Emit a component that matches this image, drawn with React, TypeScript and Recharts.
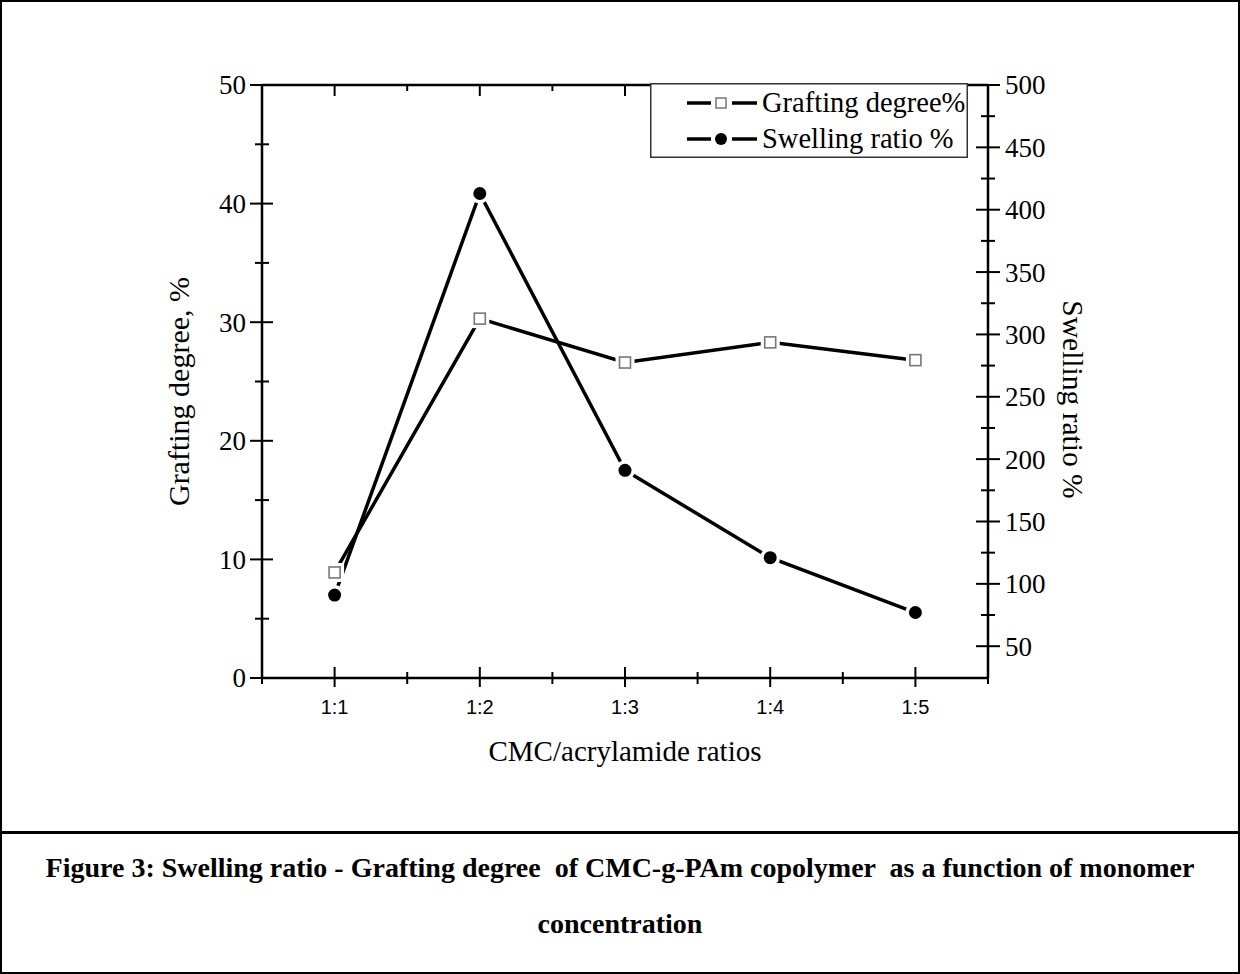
import { LineChart, Line, XAxis, YAxis, Legend } from 'recharts'

const ratios = ['1:1', '1:2', '1:3', '1:4', '1:5']
const grafting = [8.9, 30.3, 26.6, 28.3, 26.8]
const swelling = [91, 413, 191, 121, 77]
const seriesNames = ['Grafting degree%', 'Swelling ratio %']

const xTicks = [0.5, 1, 1.5, 2, 2.5, 3, 3.5, 4, 4.5, 5, 5.5]
const leftTicks = [0, 5, 10, 15, 20, 25, 30, 35, 40, 45, 50]
const rightTicks = [50, 75, 100, 125, 150, 175, 200, 225, 250, 275, 300, 325, 350, 375, 400, 425, 450, 475, 500]

const data = ratios.map((r, i) => ({
  pos: i + 1,
  ratio: r,
  grafting: grafting[i],
  swelling: swelling[i],
}))

const serif = '"Liberation Serif", "Times New Roman", serif'
const sans = '"Liberation Sans", Arial, sans-serif'

function BottomTick({ x, y, payload }: any) {
  const v = payload.value
  const edge = v === 0.5 || v === 5.5
  const major = Number.isInteger(v)
  return (
    <g>
      <line
        x1={x}
        x2={x}
        y1={edge ? y : major ? y - 11 : y - 6}
        y2={major ? y + 9 : y + 6}
        stroke="#000"
        strokeWidth={2}
      />
      {major && (
        <text x={x} y={y + 36} textAnchor="middle" fontFamily={sans} fontSize={20} fill="#000">
          {ratios[v - 1]}
        </text>
      )}
    </g>
  )
}

function TopTick({ x, y, payload }: any) {
  const v = payload.value
  if (v === 0.5 || v === 5.5) return <g />
  const major = Number.isInteger(v)
  return <line x1={x} x2={x} y1={y} y2={y + (major ? 11 : 6)} stroke="#000" strokeWidth={2} />
}

function LeftTick({ x, y, payload }: any) {
  const v = payload.value
  const major = v % 10 === 0
  return (
    <g>
      <line x1={major ? x - 12 : x - 7} x2={major ? x + 11 : x + 7} y1={y} y2={y} stroke="#000" strokeWidth={2} />
      {major && (
        <text x={x - 16} y={y} dy="0.35em" textAnchor="end" fontFamily={serif} fontSize={27} fill="#000">
          {v}
        </text>
      )}
    </g>
  )
}

function RightTick({ x, y, payload }: any) {
  const v = payload.value
  const major = v % 50 === 0
  return (
    <g>
      <line x1={major ? x - 12 : x - 7} x2={major ? x + 12 : x + 7} y1={y} y2={y} stroke="#000" strokeWidth={2} />
      {major && (
        <text x={x + 17} y={y} dy="0.35em" textAnchor="start" fontFamily={serif} fontSize={27} fill="#000">
          {v}
        </text>
      )}
    </g>
  )
}

function SquareDot({ cx, cy }: any) {
  if (cx == null || cy == null) return <g />
  return (
    <g>
      <rect x={cx - 9.5} y={cy - 9.5} width={19} height={19} fill="#fff" />
      <rect x={cx - 5.5} y={cy - 5.5} width={11} height={11} fill="#fff" stroke="#777" strokeWidth={1.6} />
    </g>
  )
}

function CircleDot({ cx, cy }: any) {
  if (cx == null || cy == null) return <g />
  return (
    <g>
      <circle cx={cx} cy={cy} r={10} fill="#fff" />
      <circle cx={cx} cy={cy} r={6.5} fill="#000" />
    </g>
  )
}

function LegendBox() {
  return (
    <svg width={318} height={75}>
      <rect x={0.75} y={0.75} width={316.5} height={73.5} fill="#fff" stroke="#333" strokeWidth={1.5} />
      {seriesNames.map((name, i) => {
        const cy = 20 + i * 36
        return (
          <g key={name}>
            <line x1={37} x2={61} y1={cy} y2={cy} stroke="#000" strokeWidth={3.5} />
            <line x1={82} x2={107} y1={cy} y2={cy} stroke="#000" strokeWidth={3.5} />
            {i === 0 ? (
              <rect x={66} y={cy - 5} width={10} height={10} fill="#fff" stroke="#777" strokeWidth={1.5} />
            ) : (
              <circle cx={71} cy={cy} r={6} fill="#000" />
            )}
            <text x={112} y={cy} dy="0.33em" fontFamily={serif} fontSize={28.5} fill="#000">
              {name}
            </text>
          </g>
        )
      })}
    </svg>
  )
}

function leftTitle({ viewBox }: any) {
  const cx = viewBox.x - 4
  const cy = viewBox.y + viewBox.height / 2 + 10
  return (
    <text
      x={cx}
      y={cy}
      dy="0.35em"
      textAnchor="middle"
      transform={`rotate(-90, ${cx}, ${cy})`}
      fontFamily={serif}
      fontSize={30}
      fill="#000"
    >
      Grafting degree, %
    </text>
  )
}

function rightTitle({ viewBox }: any) {
  const cx = viewBox.x + 85
  const cy = viewBox.y + viewBox.height / 2 + 18
  return (
    <text
      x={cx}
      y={cy}
      dy="0.35em"
      textAnchor="middle"
      transform={`rotate(90, ${cx}, ${cy})`}
      fontFamily={serif}
      fontSize={29.5}
      fill="#000"
    >
      Swelling ratio %
    </text>
  )
}

function bottomTitle({ viewBox }: any) {
  const cx = viewBox.x + viewBox.width / 2
  return (
    <text x={cx} y={viewBox.y + 83} textAnchor="middle" fontFamily={serif} fontSize={29} fill="#000">
      CMC/acrylamide ratios
    </text>
  )
}

export default function App() {
  const axisLine = { stroke: '#000', strokeWidth: 2.5 }
  return (
    <div style={{ position: 'absolute', left: 0, top: 0, width: 1240, height: 974, background: '#fff' }}>
      <div style={{ position: 'absolute', left: 0, top: 0 }}>
        <LineChart
          width={1240}
          height={832}
          data={data}
          margin={{ top: 80, right: 172, bottom: 94, left: 182 }}
        >
          <XAxis
            dataKey="pos"
            type="number"
            domain={[0.5, 5.5]}
            allowDataOverflow
            ticks={xTicks}
            interval={0}
            tickSize={0}
            tickMargin={0}
            tickLine={false}
            axisLine={axisLine}
            height={60}
            tick={<BottomTick />}
            label={{ content: bottomTitle }}
          />
          <XAxis
            xAxisId="top"
            orientation="top"
            dataKey="pos"
            type="number"
            domain={[0.5, 5.5]}
            allowDataOverflow
            ticks={xTicks}
            interval={0}
            tickSize={0}
            tickMargin={0}
            tickLine={false}
            axisLine={axisLine}
            height={5}
            tick={<TopTick />}
          />
          <YAxis
            yAxisId="left"
            type="number"
            domain={[0, 50]}
            allowDataOverflow
            ticks={leftTicks}
            interval={0}
            tickSize={0}
            tickMargin={0}
            tickLine={false}
            axisLine={axisLine}
            width={80}
            tick={<LeftTick />}
            label={{ content: leftTitle }}
          />
          <YAxis
            yAxisId="right"
            orientation="right"
            type="number"
            domain={[24.5, 500]}
            allowDataOverflow
            ticks={rightTicks}
            interval={0}
            tickSize={0}
            tickMargin={0}
            tickLine={false}
            axisLine={axisLine}
            width={80}
            tick={<RightTick />}
            label={{ content: rightTitle }}
          />
          <Legend
            layout="horizontal"
            verticalAlign="middle"
            align="center"
            wrapperStyle={{ left: 650, top: 83, width: 318, height: 75 }}
            content={<LegendBox />}
          />
          <Line
            yAxisId="left"
            type="linear"
            dataKey="grafting"
            name={seriesNames[0]}
            stroke="#000"
            strokeWidth={3.5}
            dot={<SquareDot />}
            activeDot={false}
            isAnimationActive={false}
          />
          <Line
            yAxisId="right"
            type="linear"
            dataKey="swelling"
            name={seriesNames[1]}
            stroke="#000"
            strokeWidth={3.5}
            dot={<CircleDot />}
            activeDot={false}
            isAnimationActive={false}
          />
        </LineChart>
      </div>
      <div
        style={{
          position: 'absolute',
          left: 0,
          top: 840,
          width: 1240,
          textAlign: 'center',
          fontFamily: serif,
          fontWeight: 'bold',
          fontSize: 28,
          lineHeight: '56px',
          whiteSpace: 'pre',
          color: '#000',
        }}
      >
        {'Figure 3: Swelling ratio - Grafting degree  of CMC-g-PAm copolymer  as a function of monomer\nconcentration'}
      </div>
      <div
        style={{
          position: 'absolute',
          left: 0,
          top: 0,
          width: 1240,
          height: 974,
          border: '2px solid #000',
          boxSizing: 'border-box',
          pointerEvents: 'none',
        }}
      />
      <div style={{ position: 'absolute', left: 0, top: 831, width: 1240, height: 3, background: '#000' }} />
    </div>
  )
}
